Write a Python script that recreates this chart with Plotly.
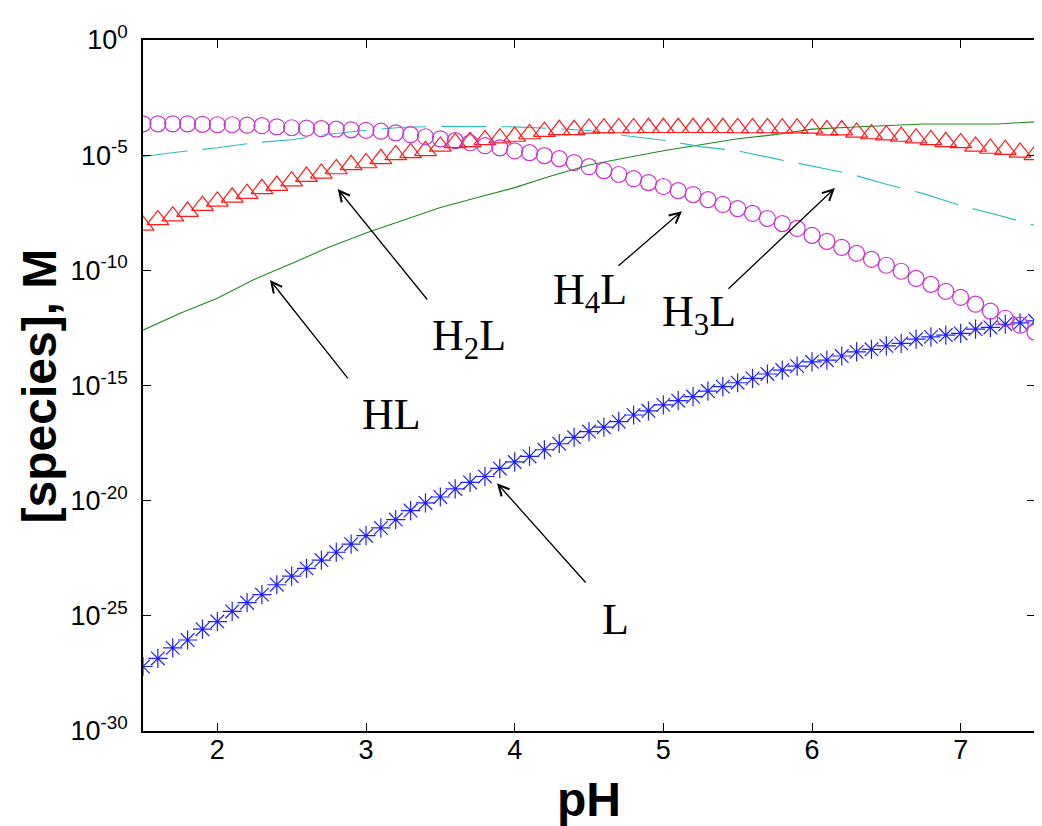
import plotly.graph_objects as go

# ---------------- data (log10 of concentration) ----------------
ph_markers = [1.5, 1.6, 1.7, 1.8, 1.9, 2.0, 2.1, 2.2, 2.3, 2.4, 2.5, 2.6, 2.7, 2.8, 2.9,
              3.0, 3.1, 3.2, 3.3, 3.4, 3.5, 3.6, 3.7, 3.8, 3.9, 4.0, 4.1, 4.2, 4.3, 4.4,
              4.5, 4.6, 4.7, 4.8, 4.9, 5.0, 5.1, 5.2, 5.3, 5.4, 5.5, 5.6, 5.7, 5.8, 5.9,
              6.0, 6.1, 6.2, 6.3, 6.4, 6.5, 6.6, 6.7, 6.8, 6.9, 7.0, 7.1, 7.2, 7.3, 7.4, 7.5]

log_H4L = [-3.64, -3.64, -3.64, -3.64, -3.66,
           -3.68, -3.68, -3.70, -3.72, -3.77, -3.81, -3.83, -3.85, -3.87, -3.90,
           -3.92, -3.96, -4.03, -4.11, -4.20, -4.29, -4.37, -4.46, -4.59, -4.68,
           -4.81, -4.89, -5.02, -5.15, -5.32, -5.50, -5.67, -5.84, -6.02, -6.19,
           -6.36, -6.54, -6.71, -6.93, -7.14, -7.32, -7.53, -7.75, -7.97, -8.18,
           -8.48, -8.74, -9.00, -9.26, -9.52, -9.78, -10.04, -10.35, -10.61, -10.91,
           -11.17, -11.47, -11.77, -12.08, -12.38, -12.68]

log_H2L = [-8.05, -7.81, -7.65, -7.45, -7.19,
           -7.01, -6.83, -6.67, -6.46, -6.32, -6.13, -5.93, -5.79, -5.60, -5.42,
           -5.34, -5.16, -4.99, -4.90, -4.81, -4.62, -4.47, -4.42, -4.34, -4.26,
           -4.19, -4.08, -3.98, -3.90, -3.90, -3.84, -3.83, -3.82, -3.82, -3.81,
           -3.81, -3.81, -3.81, -3.81, -3.81, -3.82, -3.82, -3.82, -3.83, -3.83,
           -3.84, -3.91, -3.91, -4.01, -4.08, -4.13, -4.19, -4.26, -4.34, -4.42,
           -4.47, -4.62, -4.71, -4.76, -4.88, -4.99]

log_L = [-27.20, -26.85, -26.39, -26.05, -25.58,
         -25.25, -24.81, -24.43, -24.08, -23.65, -23.28, -22.94, -22.58, -22.24, -21.89,
         -21.52, -21.18, -20.82, -20.43, -20.10, -19.84, -19.49, -19.21, -18.95, -18.60,
         -18.32, -18.08, -17.79, -17.53, -17.25, -17.00, -16.81, -16.57, -16.28, -16.10,
         -15.84, -15.66, -15.48, -15.24, -15.05, -14.88, -14.69, -14.50, -14.33, -14.16,
         -13.97, -13.90, -13.72, -13.54, -13.43, -13.28, -13.17, -12.99, -12.89, -12.81,
         -12.74, -12.55, -12.48, -12.34, -12.28, -12.19]

ph_lines = [1.5, 1.75, 2.0, 2.25, 2.5, 2.75, 3.0, 3.25, 3.5, 3.75, 4.0, 4.25, 4.5,
            4.75, 5.0, 5.25, 5.5, 5.75, 6.0, 6.25, 6.5, 6.75, 7.0, 7.25, 7.5]

log_H3L = [-5.06, -4.85, -4.68, -4.46, -4.33, -4.09, -3.92, -3.79, -3.75, -3.75, -3.77,
           -3.84, -3.93, -4.16, -4.35, -4.63, -4.81, -5.15, -5.48, -5.80, -6.26, -6.67,
           -7.19, -7.60, -8.05]

log_HL = [-12.60, -11.86, -11.21, -10.39, -9.70, -9.00, -8.38, -7.84, -7.27, -6.84, -6.41,
          -5.89, -5.43, -5.11, -4.81, -4.55, -4.29, -4.11, -3.87, -3.79, -3.72, -3.65,
          -3.65, -3.65, -3.55]

y_tick_exponents = [-30, -25, -20, -15, -10, -5, 0]
y_tick_labels = ["10<sup>-30</sup>", "10<sup>-25</sup>", "10<sup>-20</sup>", "10<sup>-15</sup>",
                 "10<sup>-10</sup>", "10<sup>-5</sup>", "10<sup>0</sup>"]
x_ticks = [2, 3, 4, 5, 6, 7]

# label text, text position (pH, log10), arrow tail (pH, log10), arrow tip (pH, log10)
labels = [
    ("H<sub>2</sub>L", 3.69, -12.95, 3.42, -11.33, 2.81, -6.47),
    ("HL", 3.17, -16.28, 2.886, -14.76, 2.354, -10.42),
    ("H<sub>4</sub>L", 4.51, -10.95, 4.688, -9.86, 5.125, -7.43),
    ("H<sub>3</sub>L", 5.24, -11.9, 5.428, -10.86, 6.154, -6.43),
    ("L", 4.675, -25.18, 4.486, -23.62, 3.881, -19.24),
]


def tolin(vals):
    return [10 ** v for v in vals]


fig = go.Figure()

fig.add_trace(go.Scatter(
    x=ph_lines, y=tolin(log_HL), mode="lines", name="HL",
    line=dict(color="#1f8a1f", width=1.1)))
fig.add_trace(go.Scatter(
    x=ph_lines, y=tolin(log_H3L), mode="lines", name="H3L",
    line=dict(color="#2bbdbd", width=1.1, dash="45px,15px")))
fig.add_trace(go.Scatter(
    x=ph_markers, y=tolin(log_L), mode="markers", name="L",
    marker=dict(symbol="asterisk-open", size=16, color="#1f1fff",
                line=dict(color="#1f1fff", width=1.2))))
fig.add_trace(go.Scatter(
    x=ph_markers, y=tolin(log_H2L), mode="markers", name="H2L",
    marker=dict(symbol="triangle-up-open", size=19, color="#ff1a1a",
                line=dict(color="#ff1a1a", width=1.2))))
fig.add_trace(go.Scatter(
    x=ph_markers, y=tolin(log_H4L), mode="markers", name="H4L",
    marker=dict(symbol="circle-open", size=16, color="#cc33cc",
                line=dict(color="#cc33cc", width=1.2))))

serif = "Liberation Serif, Times New Roman, serif"
sans = "Liberation Sans, Arial, sans-serif"
narrow = "Liberation Sans Narrow, Arial Narrow, Liberation Sans, Arial, sans-serif"

annotations = []
for text, tx, ty, ax0, ay0, hx, hy in labels:
    annotations.append(dict(
        x=hx, y=hy, ax=ax0, ay=ay0, xref="x", yref="y", axref="x", ayref="y",
        text="", showarrow=True, arrowhead=5, arrowsize=1.6, arrowwidth=1.3,
        arrowcolor="black", standoff=0))
    annotations.append(dict(
        x=tx, y=ty, xref="x", yref="y", text=text, showarrow=False,
        xanchor="center", yanchor="middle",
        font=dict(family=serif, size=44, color="black")))

# axis titles
annotations.append(dict(
    x=-0.1155, y=0.5, xref="paper", yref="paper", text="<b>[species], M</b>",
    textangle=-90, showarrow=False, xanchor="center", yanchor="middle",
    font=dict(family=sans, size=48, color="black")))
annotations.append(dict(
    x=0.5, y=-0.099, xref="paper", yref="paper", text="<b>pH</b>",
    showarrow=False, xanchor="center", yanchor="middle",
    font=dict(family=sans, size=48, color="black")))

axis_common = dict(
    showline=True, linecolor="black", linewidth=1.5, mirror="ticks",
    ticks="inside", ticklen=8, tickcolor="black", tickwidth=1,
    showgrid=False, zeroline=False, automargin=False,
    tickfont=dict(family=narrow, size=27, color="black"),
)

# the page body adds an 8 px offset, so the figure is 8 px smaller and margins shifted
fig.update_layout(
    width=1034, height=818,
    margin=dict(l=135, r=7, t=32, b=95),
    paper_bgcolor="white", plot_bgcolor="white",
    showlegend=False,
    annotations=annotations,
    xaxis=dict(range=[1.5, 7.5], tickvals=x_ticks, ticklabelstandoff=-6, **axis_common),
    yaxis=dict(
        type="log", range=[-30, 0],
        tickvals=[10 ** e for e in y_tick_exponents], ticktext=y_tick_labels,
        ticklabelstandoff=8,
        **axis_common),
)

fig.write_html("out.html")
